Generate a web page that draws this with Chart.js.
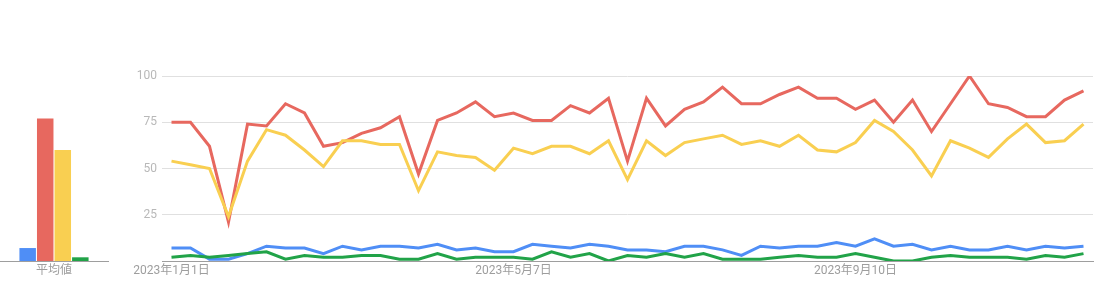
<!DOCTYPE html>
<html>
<head>
<meta charset="utf-8">
<script src="https://cdn.jsdelivr.net/npm/chart.js@4.4.0/dist/chart.umd.min.js"></script>
<style>
  html, body { margin: 0; padding: 0; background: #fff; }
  body { width: 1099px; height: 285px; position: relative; overflow: hidden; }
  #avgWrap { position: absolute; left: 0; top: 0; width: 120px; height: 285px; }
  #lineWrap { position: absolute; left: 120px; top: 0; width: 979px; height: 285px; }
</style>
</head>
<body>
<div id="avgWrap"><canvas id="avg" width="120" height="285"></canvas></div>
<div id="lineWrap"><canvas id="line" width="979" height="285"></canvas></div>
<script>
const weeks = [
  '2023年1月1日','2023年1月8日','2023年1月15日','2023年1月22日','2023年1月29日',
  '2023年2月5日','2023年2月12日','2023年2月19日','2023年2月26日',
  '2023年3月5日','2023年3月12日','2023年3月19日','2023年3月26日',
  '2023年4月2日','2023年4月9日','2023年4月16日','2023年4月23日','2023年4月30日',
  '2023年5月7日','2023年5月14日','2023年5月21日','2023年5月28日',
  '2023年6月4日','2023年6月11日','2023年6月18日','2023年6月25日',
  '2023年7月2日','2023年7月9日','2023年7月16日','2023年7月23日','2023年7月30日',
  '2023年8月6日','2023年8月13日','2023年8月20日','2023年8月27日',
  '2023年9月3日','2023年9月10日','2023年9月17日','2023年9月24日',
  '2023年10月1日','2023年10月8日','2023年10月15日','2023年10月22日','2023年10月29日',
  '2023年11月5日','2023年11月12日','2023年11月19日','2023年11月26日',
  '2023年12月3日'
];
const shownTicks = ['2023年1月1日', '2023年5月7日', '2023年9月10日'];
const yTicks = [25, 50, 75, 100];

const seriesNames = ['検索語1', '検索語2', '検索語3', '検索語4'];
const blueValues = [7,7,1,1,4,8,7,7,4,8,6,8,8,7,9,6,7,5,5,9,8,7,9,8,6,6,5,8,8,6,3,8,7,8,8,10,8,12,8,9,6,8,6,6,8,6,8,7,8];
const redValues = [75,75,62,21,74,73,85,80,62,64,69,72,78,47,76,80,86,78,80,76,76,84,80,88,54,88,73,82,86,94,85,85,90,94,88,88,82,87,75,87,70,85,100,85,83,78,78,87,92];
const yellowValues = [54,52,50,24,54,71,68,60,51,65,65,63,63,38,59,57,56,49,61,58,62,62,58,65,44,65,57,64,66,68,63,65,62,68,60,59,64,76,70,60,46,65,61,56,66,74,64,65,74];
const greenValues = [2,3,2,3,4,5,1,3,2,2,3,3,1,1,4,1,2,2,2,1,5,2,4,0,3,2,4,2,4,1,1,1,2,3,2,2,4,2,0,0,2,3,2,2,2,1,3,2,4];
const averageValues = [7, 77, 60, 2];
const avgLabel = ['平均値'];

const colors = ['#4f8ef6', '#e7685f', '#f9cf51', '#21a348'];
const FONT = 'Roboto, "Noto Sans CJK JP", sans-serif';

// ---- Average bar chart ----
new Chart(document.getElementById('avg'), {
  type: 'bar',
  data: {
    labels: avgLabel,
    datasets: averageValues.map((v, i) => ({
      label: seriesNames[i],
      data: [v],
      backgroundColor: colors[i],
      borderWidth: 0,
      barPercentage: 0.94,
      categoryPercentage: 0.65
    }))
  },
  options: {
    responsive: false,
    animation: false,
    layout: { padding: { top: 76, right: 12, left: 0, bottom: 0 } },
    plugins: { legend: { display: false }, tooltip: { enabled: false } },
    scales: {
      x: {
        grid: { display: false, drawTicks: false },
        border: { display: true, color: '#9e9e9e', width: 1 },
        ticks: { color: '#9e9e9e', font: { family: FONT, size: 12 }, padding: 3 },
        afterFit(s) { s.height = 24; }
      },
      y: {
        display: false,
        min: 0, max: 100
      }
    }
  }
});

// ---- Line chart ----
const lineData = [blueValues, redValues, yellowValues, greenValues];
new Chart(document.getElementById('line'), {
  type: 'line',
  data: {
    labels: weeks,
    datasets: lineData.map((arr, i) => ({
      label: seriesNames[i],
      data: arr,
      borderColor: colors[i],
      backgroundColor: colors[i],
      borderWidth: 3,
      pointRadius: 0,
      tension: 0,
      fill: false,
      order: 3 - i
    }))
  },
  options: {
    responsive: false,
    animation: false,
    layout: { padding: { top: 76, right: 6, left: 0, bottom: 0 } },
    plugins: { legend: { display: false }, tooltip: { enabled: false } },
    scales: {
      x: {
        offset: true,
        grid: { display: false, drawTicks: false },
        border: { display: true, color: '#9e9e9e', width: 1 },
        ticks: {
          autoSkip: false, maxRotation: 0, minRotation: 0,
          color: '#9e9e9e', font: { family: FONT, size: 12 }, padding: 3,
          callback(v, idx) { const l = weeks[idx]; return shownTicks.includes(l) ? l : ''; }
        },
        afterFit(s) { s.height = 24; }
      },
      y: {
        min: 0, max: 100,
        afterBuildTicks(s) { s.ticks = [0].concat(yTicks).map(v => ({ value: v })); },
        grid: { color: '#e0e0e0', lineWidth: 1, drawTicks: false },
        border: { display: false },
        ticks: {
          color: '#b8b8b8', font: { family: FONT, size: 12 }, padding: 5,
          callback(v) { return yTicks.includes(v) ? String(v) : ''; }
        },
        afterFit(s) { s.width = 42; }
      }
    }
  }
});
</script>
</body>
</html>
